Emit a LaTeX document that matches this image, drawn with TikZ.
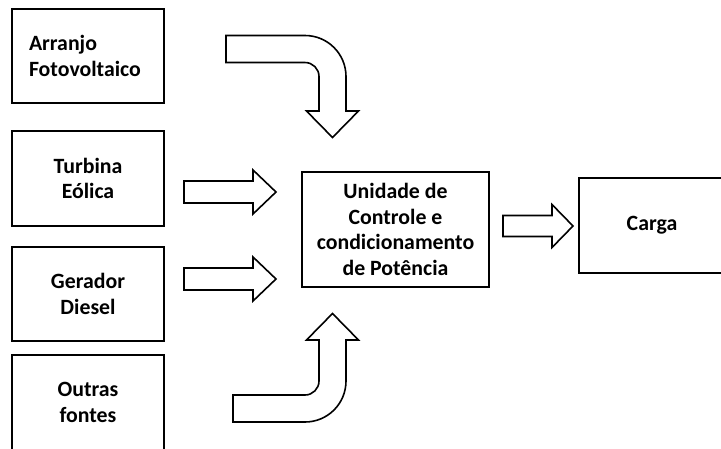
\documentclass[tikz,border=0pt]{standalone}
\usepackage{fontspec}
\setmainfont{Carlito}
\begin{document}
\begin{tikzpicture}[x=1pt,y=1pt,
  box/.style={draw=black,line width=1.8pt,rectangle,inner sep=0pt,
    font=\fontsize{21.8}{25.5}\selectfont\bfseries,align=center},
  fat/.style={draw=black,line width=1.6pt,fill=white,line join=miter}]
\useasboundingbox (0,0) rectangle (721,-448);
\clip (0,0) rectangle (721,-448);
\fill[white] (0,0) rectangle (721,-448);
% source boxes
\node[box,minimum width=152pt,minimum height=94pt,text width=118pt,align=left]
  (arranjo) at (88,-56) {Arranjo\\Fotovoltaico};
\node[box,minimum width=152pt,minimum height=95pt] (turbina) at (88,-178.5) {Turbina\\E\'olica};
\node[box,minimum width=152pt,minimum height=94pt] (gerador) at (88,-294) {Gerador\\Diesel};
\node[box,minimum width=152pt,minimum height=95pt] (outras) at (88,-402.5) {Outras\\fontes};
% central and load boxes
\node[box,minimum width=187pt,minimum height=115pt] (central) at (395.5,-229.5)
  {Unidade de\\Controle e\\condicionamento\\de Pot\^encia};
\node[box,minimum width=152pt,minimum height=95pt,anchor=west] (carga) at (578,-225.5) {};
\node[font=\fontsize{21.8}{25.5}\selectfont\bfseries,inner sep=0pt] (cargatext) at (652,-225.5) {Carga};
% curved arrow from top
\draw[fat] (226,-35.5) -- (305,-35.5) arc[start angle=90,end angle=0,radius=41]
  -- (346,-111) -- (358.5,-111) -- (332.5,-137.5) -- (306.5,-111) -- (319,-111)
  -- (319,-76.5) arc[start angle=0,end angle=90,radius=14] -- (226,-62.5) -- cycle;
% straight arrows
\draw[fat] (184,-181) -- (253,-181) -- (253,-170) -- (276,-192) -- (253,-214)
  -- (253,-203) -- (184,-203) -- cycle;
\draw[fat] (184,-268) -- (253,-268) -- (253,-257) -- (276,-279) -- (253,-301)
  -- (253,-290) -- (184,-290) -- cycle;
\draw[fat] (503,-215.5) -- (552,-215.5) -- (552,-204.5) -- (573,-226) -- (552,-247.5)
  -- (552,-236.5) -- (503,-236.5) -- cycle;
% curved arrow from bottom
\draw[fat] (233,-395) -- (305,-395) arc[start angle=-90,end angle=0,radius=14]
  -- (319,-340) -- (306.5,-340) -- (332.5,-313.5) -- (358.5,-340) -- (346,-340)
  -- (346,-381) arc[start angle=0,end angle=-90,radius=41] -- (233,-422) -- cycle;
\end{tikzpicture}
\end{document}
